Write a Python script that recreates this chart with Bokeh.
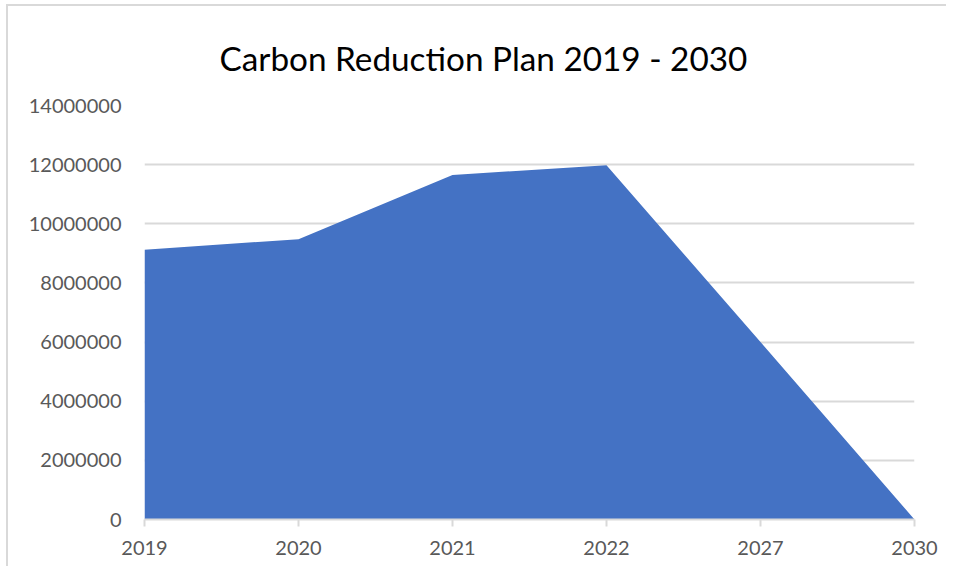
from bokeh.plotting import figure
from bokeh.models import Range1d, FixedTicker, Title
from bokeh.embed import file_html
from bokeh.resources import INLINE

years = ["2019", "2020", "2021", "2022", "2027", "2030"]
emissions = [9120000, 9480000, 11650000, 11980000, 6000000, 0]
y_ticks = [0, 2000000, 4000000, 6000000, 8000000, 10000000, 12000000, 14000000]
title_text = "Carbon Reduction Plan 2019 - 2030"

xs = list(range(len(years)))

p = figure(width=940, height=562, output_backend="svg", toolbar_location=None,
           x_range=Range1d(0, len(years) - 1), y_range=Range1d(0, y_ticks[-1]),
           min_border_left=136, min_border_right=34, min_border_top=99, min_border_bottom=49)
p.styles = {"border-left": "2px solid #d9d9d9", "border-top": "2px solid #d9d9d9",
            "margin-left": "6px", "margin-top": "4px"}
p.outline_line_color = None
p.background_fill_color = "white"
p.border_fill_color = "white"

p.varea(x=xs, y1=[0] * len(xs), y2=emissions, fill_color="#4472C4")

p.title = Title(text=title_text, align="left", text_font="Lato", text_font_size="33.3px",
                text_font_style="normal", text_color="#000000", offset=75, standoff=56)

p.xaxis.ticker = FixedTicker(ticks=xs)
p.xaxis.major_label_overrides = {i: y for i, y in enumerate(years)}
p.xaxis.axis_line_color = "#d9d9d9"
p.xaxis.axis_line_width = 2
p.xaxis.major_tick_line_color = "#d9d9d9"
p.xaxis.major_tick_line_width = 2
p.xaxis.major_tick_out = 7
p.xaxis.major_tick_in = 0
p.xaxis.minor_tick_line_color = None
p.xaxis.major_label_standoff = 14
p.xaxis.major_label_text_font = "Lato"
p.xaxis.major_label_text_font_size = "20px"
p.xaxis.major_label_text_color = "#595959"

p.yaxis.ticker = FixedTicker(ticks=y_ticks)
p.yaxis.major_label_overrides = {v: str(v) for v in y_ticks}
p.yaxis.axis_line_color = None
p.yaxis.major_tick_line_color = None
p.yaxis.minor_tick_line_color = None
p.yaxis.major_label_standoff = 17
p.yaxis.major_label_text_font = "Lato"
p.yaxis.major_label_text_font_size = "20px"
p.yaxis.major_label_text_color = "#595959"

p.xgrid.grid_line_color = None
p.ygrid.grid_line_color = "#d9d9d9"
p.ygrid.grid_line_width = 2
p.ygrid.level = "underlay"

open("out.html", "w").write(file_html(p, INLINE))
